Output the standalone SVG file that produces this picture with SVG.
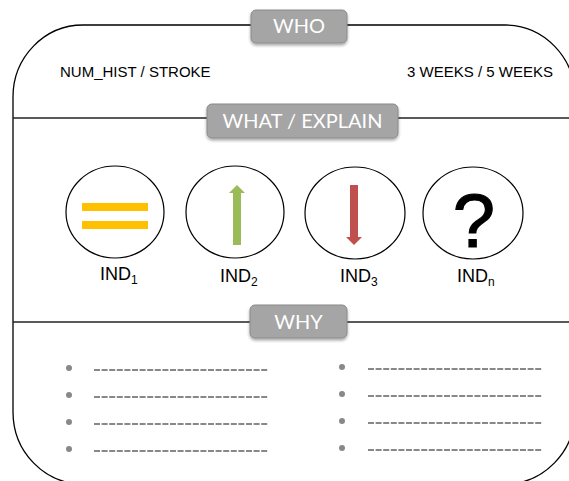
<svg xmlns="http://www.w3.org/2000/svg" width="569" height="481" viewBox="0 0 569 481">
  <defs>
    <filter id="shadow" x="-10%" y="-20%" width="120%" height="160%">
      <feGaussianBlur in="SourceAlpha" stdDeviation="1.5"/>
      <feOffset dx="0" dy="2" result="b"/>
      <feComponentTransfer><feFuncA type="linear" slope="0.35"/></feComponentTransfer>
      <feMerge><feMergeNode/><feMergeNode in="SourceGraphic"/></feMerge>
    </filter>
  </defs>
  <style>
    .frame { fill: none; stroke: #000; stroke-width: 1.3; }
    .rule { stroke: #222; stroke-width: 1.3; }
    .tag { fill: #a5a5a5; stroke: #8a8a8a; stroke-width: 1; filter: url(#shadow); }
    .tagtext { font-family: Lato, "Open Sans", sans-serif; font-size: 20px; fill: #fff; text-anchor: middle; }
    .info { font-family: "Liberation Sans", Arial, sans-serif; font-size: 15px; fill: #000; }
    .ring { fill: #fff; stroke: #000; stroke-width: 1.2; }
    .ind { font-family: "Liberation Sans", Arial, sans-serif; font-size: 18px; fill: #000; }
    .dot { fill: #888; }
    .dash { stroke: #888; stroke-width: 2; stroke-dasharray: 6 1.6; }
  </style>
  <rect width="569" height="481" fill="#fff"/>

  <!-- outer rounded frame -->
  <path class="frame" d="M83,25 H505 A70,72 0 0 1 575,97 V412 A70,72 0 0 1 505,484 H83 A70,72 0 0 1 13,412 V97 A70,72 0 0 1 83,25 Z"/>

  <!-- section dividers -->
  <g id="connectors">
    <line class="rule" x1="13" y1="118" x2="207" y2="118"/>
    <line class="rule" x1="398" y1="118" x2="569" y2="118"/>
    <line class="rule" x1="13" y1="322" x2="250" y2="322"/>
    <line class="rule" x1="347" y1="322" x2="569" y2="322"/>
  </g>

  <!-- section headings -->
  <g id="who">
    <rect class="tag" x="251" y="10" width="96" height="33" rx="5"/>
    <text class="tagtext" x="299" y="33">WHO</text>
  </g>
  <g id="what">
    <rect class="tag" x="207" y="104" width="191" height="34" rx="5"/>
    <text class="tagtext" x="302.5" y="128">WHAT / EXPLAIN</text>
  </g>
  <g id="why">
    <rect class="tag" x="250" y="305" width="97" height="33" rx="5"/>
    <text class="tagtext" x="298.5" y="329">WHY</text>
  </g>

  <!-- who details -->
  <g id="who-details">
    <text class="info" x="60" y="77">NUM_HIST / STROKE</text>
    <text class="info" x="553" y="77" text-anchor="end">3 WEEKS / 5 WEEKS</text>
  </g>

  <!-- indicators -->
  <g id="ind1">
    <ellipse class="ring" cx="115" cy="212" rx="49" ry="46"/>
    <rect x="82" y="203" width="66" height="8" fill="#ffc000"/>
    <rect x="82" y="221" width="66" height="8" fill="#ffc000"/>
    <text class="ind" x="100" y="280">IND<tspan font-size="12" dy="4">1</tspan></text>
  </g>
  <g id="ind2">
    <ellipse class="ring" cx="235" cy="212" rx="49" ry="46"/>
    <path d="M233,245 V193 H229 L237,185 L245,193 H241 V245 Z" fill="#9bbb59"/>
    <text class="ind" x="220" y="282">IND<tspan font-size="12" dy="4">2</tspan></text>
  </g>
  <g id="ind3">
    <ellipse class="ring" cx="355" cy="213" rx="50" ry="46"/>
    <path d="M350,185 H358 V237 H362 L354,245 L346,237 H350 Z" fill="#c0504d"/>
    <text class="ind" x="340" y="282">IND<tspan font-size="12" dy="4">3</tspan></text>
  </g>
  <g id="indn">
    <ellipse class="ring" cx="473" cy="213" rx="50" ry="46"/>
    <text x="474" y="247" font-family="Liberation Sans, Arial, sans-serif" font-size="76" text-anchor="middle" fill="#000" stroke="#000" stroke-width="1.2">?</text>
    <text class="ind" x="457" y="282">IND<tspan font-size="12" dy="4">n</tspan></text>
  </g>

  <!-- reasons list -->
  <g id="why-list">
    <circle class="dot" cx="69" cy="368" r="3"/>
    <circle class="dot" cx="69" cy="395" r="3"/>
    <circle class="dot" cx="69" cy="422" r="3"/>
    <circle class="dot" cx="69" cy="449" r="3"/>
    <line class="dash" x1="94" y1="370" x2="268" y2="370"/>
    <line class="dash" x1="94" y1="397" x2="268" y2="397"/>
    <line class="dash" x1="94" y1="424" x2="268" y2="424"/>
    <line class="dash" x1="94" y1="451" x2="268" y2="451"/>
    <circle class="dot" cx="342" cy="367" r="3"/>
    <circle class="dot" cx="342" cy="394" r="3"/>
    <circle class="dot" cx="342" cy="421" r="3"/>
    <circle class="dot" cx="342" cy="448" r="3"/>
    <line class="dash" x1="368" y1="369" x2="542" y2="369"/>
    <line class="dash" x1="368" y1="396" x2="542" y2="396"/>
    <line class="dash" x1="368" y1="423" x2="542" y2="423"/>
    <line class="dash" x1="368" y1="450" x2="542" y2="450"/>
  </g>
</svg>
